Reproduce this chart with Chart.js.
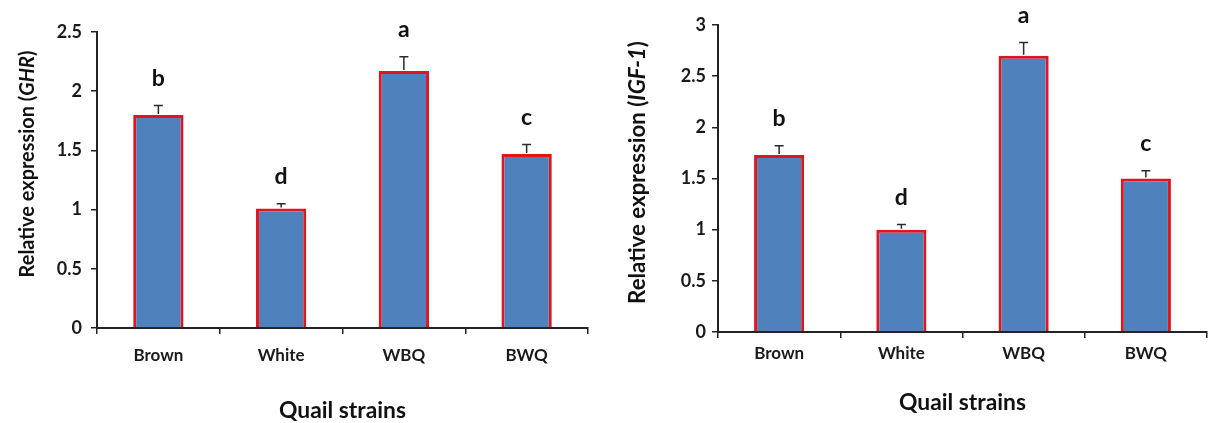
<!DOCTYPE html>
<html><head><meta charset="utf-8">
<script src="https://cdn.jsdelivr.net/npm/chart.js@4"></script>
<style>
html,body{margin:0;padding:0;background:#fff;overflow:hidden;width:1210px;height:423px}
canvas{position:absolute;top:0}
</style>
</head><body>
<canvas id="c1" width="600" height="423" style="left:0"></canvas>
<canvas id="c2" width="610" height="423" style="left:600px"></canvas>
<script>
const categories = ['Brown', 'White', 'WBQ', 'BWQ'];
const ghrMeans = [1.80, 1.01, 2.17, 1.47];
const ghrErrors = [0.08, 0.04, 0.12, 0.08];
const ghrLetters = ['b', 'd', 'a', 'c'];
const ghrMax = 2.5;
const igfMeans = [1.73, 1.00, 2.70, 1.50];
const igfErrors = [0.09, 0.05, 0.13, 0.075];
const igfLetters = ['b', 'd', 'a', 'c'];
const igfMax = 3;
const tickStep = 0.5;
const xTitle = 'Quail strains';
const ghrTitle = [['Relative expression (', false], ['GHR', true], [')', false]];
const igfTitle = [['Relative expression (', false], ['IGF-1', true], [')', false]];

const FONT = 'Lato, "Open Sans", sans-serif';

function partsFont(it, size) { return (it ? 'italic ' : '') + 'bold ' + size + 'px ' + FONT; }

const annotPlugin = {
  id: 'annot',
  afterDatasetsDraw(chart, args, o) {
    const ctx = chart.ctx;
    const y = chart.scales.y;
    const meta = chart.getDatasetMeta(0);
    const ca = chart.chartArea;
    ctx.save();
    meta.data.forEach((bar, i) => {
      const v = o.means[i], e = o.errors[i];
      const yTop = y.getPixelForValue(v + e);
      const yBase = y.getPixelForValue(v);
      ctx.strokeStyle = '#2a2a2a';
      ctx.lineWidth = 1.5;
      ctx.beginPath();
      ctx.moveTo(bar.x, yBase - 1);
      ctx.lineTo(bar.x, yTop);
      ctx.moveTo(bar.x - 4.5, yTop);
      ctx.lineTo(bar.x + 4.5, yTop);
      ctx.stroke();
      ctx.fillStyle = '#111';
      ctx.font = 'bold 23px ' + FONT;
      ctx.textAlign = 'center';
      ctx.textBaseline = 'middle';
      ctx.fillText(o.letters[i], bar.x, yTop - 27);
    });
    // x title, sized to target width
    ctx.fillStyle = '#111';
    ctx.font = 'bold 20px ' + FONT;
    const xs = 20 * o.xTitleW / ctx.measureText(o.xTitle).width;
    ctx.font = 'bold ' + xs + 'px ' + FONT;
    ctx.textAlign = 'center';
    ctx.textBaseline = 'middle';
    ctx.fillText(o.xTitle, (ca.left + ca.right) / 2, o.xTitleY);
    // y title (mixed italic), sized to target length
    let base = 0;
    o.yTitle.forEach(([t, it]) => { ctx.font = partsFont(it, 20); base += ctx.measureText(t).width; });
    const ys = 20 * o.yTitleW / base;
    ctx.translate(o.yTitleX, (ca.top + ca.bottom) / 2 + o.yTitleDy);
    ctx.rotate(-Math.PI / 2);
    ctx.textAlign = 'left';
    let total = 0;
    const widths = o.yTitle.map(([t, it]) => {
      ctx.font = partsFont(it, ys);
      const w = ctx.measureText(t).width; total += w; return w;
    });
    let x = -total / 2;
    o.yTitle.forEach(([t, it], k) => {
      ctx.font = partsFont(it, ys);
      ctx.fillText(t, x, 0);
      x += widths[k];
    });
    ctx.restore();
  }
};

function makeChart(id, means, errors, letters, maxV, yTitle, dims) {
  return new Chart(document.getElementById(id), {
    type: 'bar',
    data: {
      labels: categories,
      datasets: [{
        data: means,
        backgroundColor: '#4F81BD',
        borderColor: '#E3141C',
        borderWidth: 3,
        borderSkipped: 'start',
        categoryPercentage: 1,
        barPercentage: 0.41
      }]
    },
    options: {
      responsive: false,
      animation: false,
      devicePixelRatio: 1,
      layout: { padding: { top: dims.top, right: dims.right, left: 0, bottom: 0 } },
      plugins: {
        legend: { display: false },
        tooltip: { enabled: false },
        annot: { means, errors, letters, yTitle, xTitle, yTitleX: dims.yTitleX, yTitleDy: dims.yTitleDy,
                 yTitleW: dims.yTitleW, xTitleY: dims.xTitleY, xTitleW: 127 }
      },
      scales: {
        x: {
          afterFit(s) { s.height = dims.xHeight; },
          grid: { offset: true, drawOnChartArea: false, drawTicks: true, tickLength: 6, color: '#222', lineWidth: 1.5 },
          border: { display: true, color: '#222', width: 2 },
          ticks: { color: '#1a1a1a', font: { family: FONT, size: 17, weight: 'bold' }, padding: dims.xPad, maxRotation: 0 }
        },
        y: {
          min: 0, max: maxV,
          afterFit(s) { s.width = dims.yWidth; },
          grid: { drawOnChartArea: false, drawTicks: true, tickLength: 6, color: '#222', lineWidth: 1.5 },
          border: { display: true, color: '#222', width: 2 },
          ticks: { stepSize: tickStep, color: '#1a1a1a', font: { family: FONT, size: 18, weight: 'bold' },
                   padding: dims.yPad, callback: v => String(Math.round(v * 100) / 100) }
        }
      }
    },
    plugins: [annotPlugin]
  });
}

makeChart('c1', ghrMeans, ghrErrors, ghrLetters, ghrMax, ghrTitle,
  { top: 32, right: 12, xHeight: 95, yWidth: 97, yTitleX: 28, yTitleDy: -16, yTitleW: 227, xTitleY: 411, xPad: 11, yPad: 9 });
makeChart('c2', igfMeans, igfErrors, igfLetters, igfMax, igfTitle,
  { top: 25, right: 3, xHeight: 91, yWidth: 118, yTitleX: 38, yTitleDy: -6, yTitleW: 263, xTitleY: 403, xPad: 5, yPad: 6 });
</script>
</body></html>
